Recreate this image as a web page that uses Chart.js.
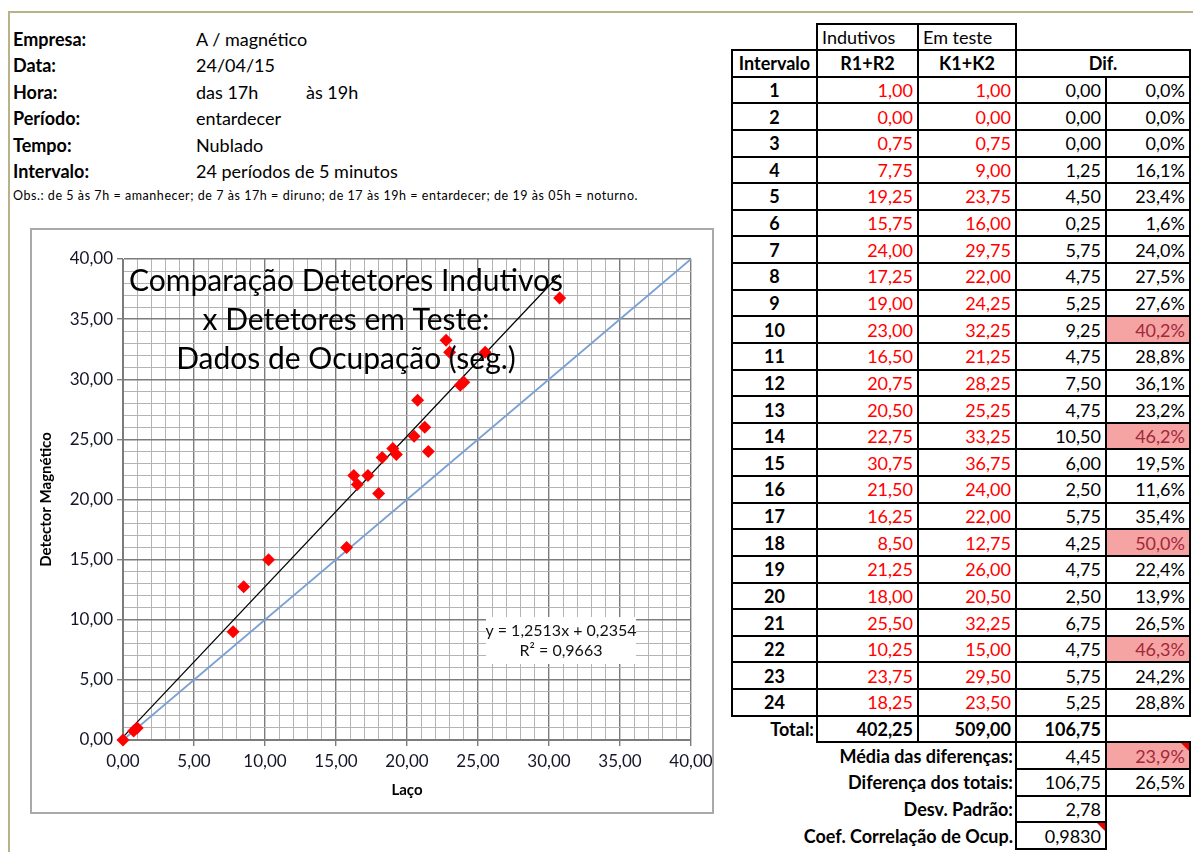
<!DOCTYPE html>
<html>
<head>
<meta charset="utf-8">
<script src="https://cdn.jsdelivr.net/npm/chart.js@4.4.0/dist/chart.umd.min.js"></script>
<style>
body { margin: 0; background: #fff; font-family: Lato, "Liberation Sans", sans-serif; color: #000; }
#page { position: relative; width: 1193px; height: 852px; overflow: hidden; }
#frame { position: absolute; left: 8px; top: 11px; right: -4px; bottom: -4px; border-left: 2px solid #b9b187; border-top: 2px solid #b9b187; }
.txt { position: absolute; white-space: nowrap; font-size: 18px; line-height: 20px; }
.b { font-weight: bold; }
.cell { position: absolute; box-sizing: border-box; display: flex; align-items: center; white-space: nowrap; font-size: 18px; padding: 0 4px; }
.box { border: 2px solid #000; }
#chartBox { position: absolute; left: 30px; top: 228px; width: 684px; height: 586px; box-sizing: border-box; border: 2px solid #a9a9a9; background: #fff; }
</style>
</head>
<body>
<div id="page">
  <div id="frame"></div>
  <div id="chartBox"><canvas id="ocupChart"></canvas></div>
</div>
<script>
// header info
var infoLabels = ['Empresa:', 'Data:', 'Hora:', 'Período:', 'Tempo:', 'Intervalo:'];
var infoValues = ['A / magnético', '24/04/15', 'das 17h', 'entardecer', 'Nublado', '24 períodos de 5 minutos'];
var horaFim = 'às 19h';
var obsText = 'Obs.: de 5 às 7h = amanhecer; de 7 às 17h = diruno; de 17 às 19h = entardecer; de 19 às 05h = noturno.';

// data (R1+R2 = Laço, K1+K2 = Detector Magnético)
var intervals = [1,2,3,4,5,6,7,8,9,10,11,12,13,14,15,16,17,18,19,20,21,22,23,24];
var lacoValues = [1.00,0.00,0.75,7.75,19.25,15.75,24.00,17.25,19.00,23.00,16.50,20.75,20.50,22.75,30.75,21.50,16.25,8.50,21.25,18.00,25.50,10.25,23.75,18.25];
var magValues = [1.00,0.00,0.75,9.00,23.75,16.00,29.75,22.00,24.25,32.25,21.25,28.25,25.25,33.25,36.75,24.00,22.00,12.75,26.00,20.50,32.25,15.00,29.50,23.50];
var difValues = [0.00,0.00,0.00,1.25,4.50,0.25,5.75,4.75,5.25,9.25,4.75,7.50,4.75,10.50,6.00,2.50,5.75,4.25,4.75,2.50,6.75,4.75,5.75,5.25];
var difPercent = [0.0,0.0,0.0,16.1,23.4,1.6,24.0,27.5,27.6,40.2,28.8,36.1,23.2,46.2,19.5,11.6,35.4,50.0,22.4,13.9,26.5,46.3,24.2,28.8];
var highlightRows = [10, 14, 18, 22];
var totals = [402.25, 509.00, 106.75];
var mediaDif = 4.45, mediaPct = 23.9;
var difTotais = 106.75, difTotaisPct = 26.5;
var desvPadrao = 2.78;
var coefCorrel = '0,9830';

// chart settings
var axisMax = 40;
var trendSlope = 1.2513, trendIntercept = 0.2354, trendR2 = '0,9663';
var titleLines = ['Comparação Detetores Indutivos', 'x Detetores em Teste:', 'Dados de Ocupação (seg.)'];

function fmt(v) { return v.toFixed(2).replace('.', ','); }
function pct(v) { return v.toFixed(1).replace('.', ',') + '%'; }

var page = document.getElementById('page');
function addText(x, y, text, cls, size) {
  var d = document.createElement('div');
  d.className = 'txt ' + (cls || '');
  d.style.left = x + 'px';
  d.style.top = (y - 10) + 'px';
  if (size) d.style.fontSize = size + 'px';
  d.textContent = text;
  page.appendChild(d);
  return d;
}

// info block
infoLabels.forEach(function (l, i) {
  var y = 39 + i * 26.4;
  addText(13, y, l, 'b');
  addText(196, y, infoValues[i]);
});
addText(306, 39 + 2 * 26.4, horaFim);
addText(13, 196, obsText, '', 12.5).style.letterSpacing = '0.55px';

// table
var colX = [732, 817, 918, 1016, 1106, 1190];
function rowY(k) { return 50 + k * 26.63; }
function cell(c0, c1, y0, y1, text, o) {
  o = o || {};
  var d = document.createElement('div');
  d.className = 'cell' + (o.box === false ? '' : ' box');
  d.style.left = (colX[c0] - 1) + 'px';
  d.style.width = (colX[c1] - colX[c0] + 2) + 'px';
  d.style.top = (y0 - 1) + 'px';
  d.style.height = (y1 - y0 + 2) + 'px';
  d.style.justifyContent = o.align === 'left' ? 'flex-start' : (o.align === 'center' ? 'center' : 'flex-end');
  if (o.bold) d.style.fontWeight = 'bold';
  if (o.color) d.style.color = o.color;
  if (o.bg) d.style.background = o.bg;
  d.textContent = text;
  if (o.flag) {
    var t = document.createElement('div');
    t.style.cssText = 'position:absolute;right:0;top:0;width:0;height:0;border-top:8px solid #e00;border-left:8px solid transparent;';
    d.appendChild(t);
  }
  page.appendChild(d);
}
var pinkBg = '#f5a3a3', pinkText = '#a2283a', red = '#ff0000';

cell(1, 2, 24, rowY(0), 'Indutivos', {align: 'left'});
cell(2, 3, 24, rowY(0), 'Em teste', {align: 'left'});
cell(0, 1, rowY(0), rowY(1), 'Intervalo', {align: 'center', bold: true});
cell(1, 2, rowY(0), rowY(1), 'R1+R2', {align: 'center', bold: true});
cell(2, 3, rowY(0), rowY(1), 'K1+K2', {align: 'center', bold: true});
cell(3, 5, rowY(0), rowY(1), 'Dif.', {align: 'center', bold: true});
intervals.forEach(function (n, i) {
  var y0 = rowY(i + 1), y1 = rowY(i + 2);
  var hl = highlightRows.indexOf(n) >= 0;
  cell(0, 1, y0, y1, String(n), {align: 'center', bold: true});
  cell(1, 2, y0, y1, fmt(lacoValues[i]), {color: red});
  cell(2, 3, y0, y1, fmt(magValues[i]), {color: red});
  cell(3, 4, y0, y1, fmt(difValues[i]));
  cell(4, 5, y0, y1, pct(difPercent[i]), hl ? {bg: pinkBg, color: pinkText} : {});
});
cell(0, 1, rowY(25), rowY(26), 'Total:', {bold: true, box: false});
totals.forEach(function (t, i) { cell(i + 1, i + 2, rowY(25), rowY(26), fmt(t), {bold: true}); });
cell(0, 3, rowY(26), rowY(27), 'Média das diferenças:', {bold: true, box: false});
cell(3, 4, rowY(26), rowY(27), fmt(mediaDif));
cell(4, 5, rowY(26), rowY(27), pct(mediaPct), {bg: pinkBg, color: pinkText, flag: true});
cell(0, 3, rowY(27), rowY(28), 'Diferença dos totais:', {bold: true, box: false});
cell(3, 4, rowY(27), rowY(28), fmt(difTotais));
cell(4, 5, rowY(27), rowY(28), pct(difTotaisPct));
cell(0, 3, rowY(28), rowY(29), 'Desv. Padrão:', {bold: true, box: false});
cell(3, 4, rowY(28), rowY(29), fmt(desvPadrao));
cell(0, 3, rowY(29), rowY(30), 'Coef. Correlação de Ocup.', {bold: true, box: false});
cell(3, 4, rowY(29), rowY(30), coefCorrel, {flag: true});

// chart
var points = lacoValues.map(function (x, i) { return {x: x, y: magValues[i]}; });
var xMin = Math.min.apply(null, lacoValues), xMax = Math.max.apply(null, lacoValues);
var trendLine = [xMin, xMax].map(function (x) { return {x: x, y: trendSlope * x + trendIntercept}; });
var refLine = [0, axisMax].map(function (v) { return {x: v, y: v}; });

var overlayText = {
  id: 'overlayText',
  afterDatasetsDraw: function (chart) {
    var ctx = chart.ctx, a = chart.chartArea;
    ctx.save();
    ctx.textAlign = 'center';
    ctx.textBaseline = 'middle';
    ctx.fillStyle = '#000';
    ctx.font = '30px Lato';
    titleLines.forEach(function (t, i) { ctx.fillText(t, a.left + 223, a.top + 22 + i * 39); });
    ctx.fillStyle = '#fff';
    ctx.fillRect(a.left + 363, a.top + 358, 150, 47);
    ctx.fillStyle = '#111';
    ctx.font = '16px Lato';
    ctx.fillText('y = ' + String(trendSlope).replace('.', ',') + 'x + ' + String(trendIntercept).replace('.', ','), a.left + 438, a.top + 372);
    ctx.fillText('R² = ' + trendR2, a.left + 438, a.top + 392);
    ctx.restore();
  }
};

function gridColor(c) { return c.tick && c.tick.value % 5 === 0 ? '#7c7c7c' : '#b4b4b4'; }
function gridWidth(c) { return c.tick && c.tick.value % 5 === 0 ? 1.4 : 1; }
function tickColor(c) { return c.tick && c.tick.value % 5 === 0 ? '#7c7c7c' : 'rgba(0,0,0,0)'; }
function axisLabel(v) { return v % 5 === 0 ? fmt(v) : ''; }

new Chart(document.getElementById('ocupChart'), {
  type: 'scatter',
  data: {
    datasets: [{
      data: points,
      pointStyle: 'rectRot',
      pointRadius: 6.5,
      backgroundColor: '#ff0000',
      borderColor: '#ff0000',
      borderWidth: 0,
      clip: false
    }, {
      data: trendLine,
      showLine: true,
      borderColor: '#000',
      borderWidth: 1.2,
      pointRadius: 0
    }, {
      data: refLine,
      showLine: true,
      borderColor: '#7aa0d4',
      borderWidth: 1.8,
      pointRadius: 0
    }]
  },
  options: {
    responsive: true,
    maintainAspectRatio: false,
    animation: false,
    layout: { padding: { top: 29, right: 21, left: 0, bottom: 0 } },
    plugins: { legend: { display: false }, tooltip: { enabled: false } },
    scales: {
      x: {
        min: 0, max: axisMax,
        afterFit: function (s) { s.height = 72; s.paddingLeft = 0; s.paddingRight = 0; },
        grid: { color: gridColor, lineWidth: gridWidth, tickColor: tickColor, tickLength: 6 },
        border: { color: '#7c7c7c' },
        ticks: { stepSize: 1, autoSkip: false, maxRotation: 0, padding: 5, color: '#15152a', font: { family: 'Lato', size: 17 }, callback: axisLabel },
        title: { display: true, text: 'Laço', color: '#000', font: { family: 'Lato', size: 15, weight: 'bold' }, padding: { top: 0, bottom: 13 } }
      },
      y: {
        min: 0, max: axisMax,
        afterFit: function (s) { s.width = 91; },
        grid: { color: gridColor, lineWidth: gridWidth, tickColor: tickColor, tickLength: 6 },
        border: { color: '#7c7c7c' },
        ticks: { stepSize: 1, autoSkip: false, padding: 4, color: '#15152a', font: { family: 'Lato', size: 17 }, callback: axisLabel },
        title: { display: true, text: 'Detector Magnético', color: '#000', font: { family: 'Lato', size: 15, weight: 'bold' }, padding: { top: 5, bottom: 0 } }
      }
    }
  },
  plugins: [overlayText]
});
</script>
</body>
</html>
